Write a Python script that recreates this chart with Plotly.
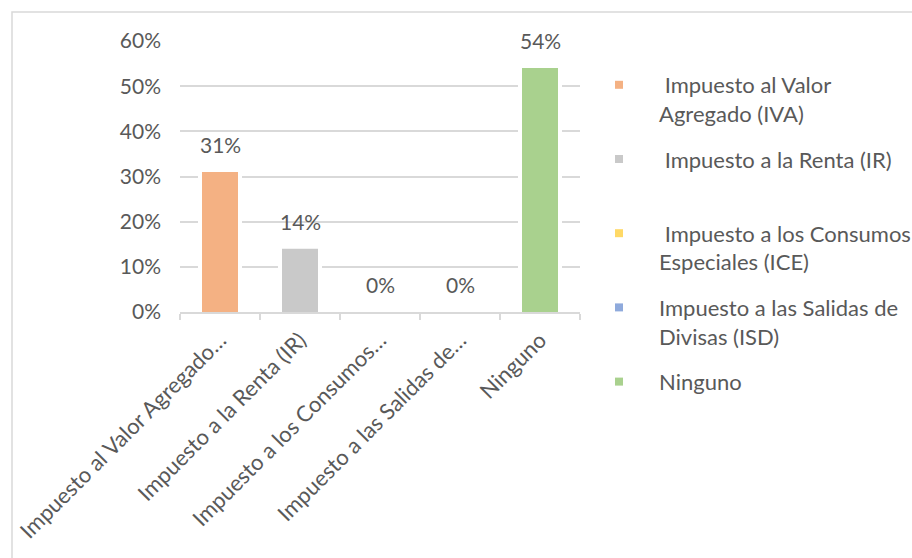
import plotly.graph_objects as go

# Survey results: taxes considered
categories = [
    "Impuesto al Valor Agregado (IVA)",
    "Impuesto a la Renta (IR)",
    "Impuesto a los Consumos Especiales (ICE)",
    "Impuesto a las Salidas de Divisas (ISD)",
    "Ninguno",
]
tick_labels = [
    "Impuesto al Valor Agregado…",
    "Impuesto a la Renta (IR)",
    "Impuesto a los Consumos…",
    "Impuesto a las Salidas de…",
    "Ninguno",
]
legend_labels = [
    " Impuesto al Valor<br>Agregado (IVA)",
    " Impuesto a la Renta (IR)<br> ",
    " Impuesto a los Consumos<br>Especiales (ICE)",
    "Impuesto a las Salidas de<br>Divisas (ISD)",
    "Ninguno<br> ",
]
values = [0.31, 0.14, 0.0, 0.0, 0.54]
colors = ["#F4B183", "#C9C9C9", "#FFD966", "#8FAADC", "#A9D18E"]

FONT = "Lato"
TEXT = "#595959"
GRID = "#D9D9D9"

W, H = 912, 558
L, R, T, B = 180, 332, 41, 246
pw, ph = W - L - R, H - T - B

fig = go.Figure()

# white halo behind each bar (breaks the gridlines around the columns)
fig.add_trace(go.Bar(
    x=categories, y=values, width=0.55,
    marker=dict(color="white", line=dict(width=0)),
    showlegend=False, hoverinfo="skip",
))
fig.add_trace(go.Bar(
    x=categories, y=values, width=0.45,
    marker=dict(color=colors, line=dict(width=0)),
    showlegend=False,
))

# legend entries with small square swatches
for i, (lab, col) in enumerate(zip(legend_labels, colors)):
    fig.add_trace(go.Scatter(
        x=[None], y=[None], mode="markers", name=lab,
        legendgroup=f"g{i}",
        marker=dict(symbol="square", size=8, color=col),
    ))

# value labels above the bars
for c, v in zip(categories, values):
    fig.add_annotation(
        x=c, y=v, text=f"{v:.0%}", showarrow=False,
        yanchor="bottom", yshift=13,
        font=dict(family=FONT, size=21, color=TEXT),
    )

# chart frame
fig.add_shape(
    type="rect", xref="paper", yref="paper",
    x0=(12 - L) / pw, x1=(930 - L) / pw,
    y0=(312 - 600) / ph, y1=(312 - 12) / ph,
    line=dict(color=GRID, width=1.5), fillcolor="rgba(0,0,0,0)", layer="below",
)

fig.update_layout(
    width=W, height=H,
    margin=dict(l=L, r=R, t=T, b=B, autoexpand=False),
    paper_bgcolor="white", plot_bgcolor="white",
    barmode="overlay",
    font=dict(family=FONT, size=21, color=TEXT),
    showlegend=True,
    legend=dict(
        x=(579 - L) / pw, y=(312 - 64) / ph, xanchor="left", yanchor="top",
        traceorder="grouped", tracegroupgap=14, valign="top",
        itemwidth=70, maxheight=460,
        font=dict(family=FONT, size=22, color=TEXT),
        bgcolor="rgba(0,0,0,0)",
    ),
    xaxis=dict(
        type="category", categoryorder="array", categoryarray=categories,
        tickvals=categories, ticktext=tick_labels,
        range=[-0.5, 4.5], tickson="boundaries",
        ticks="outside", ticklen=6, tickcolor=GRID, tickwidth=1.5,
        showline=True, linecolor=GRID, linewidth=1.5,
        showgrid=False, tickangle=-45, ticklabelstandoff=5,
        tickfont=dict(family=FONT, size=22, color=TEXT),
    ),
    yaxis=dict(
        range=[0, 0.6], dtick=0.1, tickformat=".0%",
        showgrid=True, gridcolor=GRID, gridwidth=1.5,
        zeroline=False, showline=False, ticks="",
        ticklabelstandoff=18,
        tickfont=dict(family=FONT, size=21, color=TEXT),
    ),
)

fig.write_html("out.html")
